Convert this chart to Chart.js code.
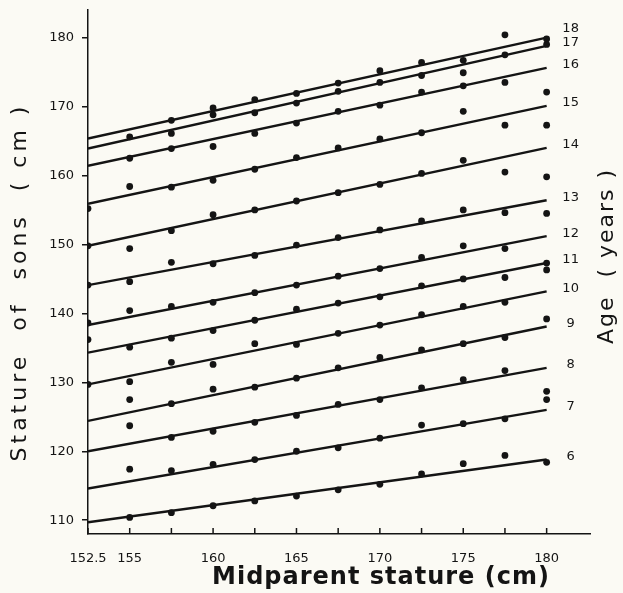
<!DOCTYPE html>
<html>
<head>
<meta charset="utf-8">
<script src="https://cdn.jsdelivr.net/npm/chart.js@4"></script>
<style>
  html, body { margin: 0; padding: 0; background: #fbfaf4; }
  canvas { display: block; }
</style>
</head>
<body>
<canvas id="chart" width="623" height="593"></canvas>
<script>
// Midparent stature classes (cm) and axis ticks
const midparent = [152.5, 155, 157.5, 160, 162.5, 165, 167.5, 170, 172.5, 175, 177.5, 180];
const xTicks = [152.5, 155, 157.5, 160, 162.5, 165, 167.5, 170, 172.5, 175, 177.5, 180];
const xLabels = [152.5, 155, 160, 165, 170, 175, 180];
const yTicks = [110, 120, 130, 140, 150, 160, 170, 180];

// Ages (years) and the fitted regression line at each end (152.5 and 180 cm)
const ages = [6, 7, 8, 9, 10, 11, 12, 13, 14, 15, 16, 17, 18];
const fitStart = [109.7, 114.6, 120.0, 124.4, 129.7, 134.3, 138.3, 144.1, 149.8, 155.9, 161.4, 163.9, 165.35];
const fitEnd = [118.8, 126.0, 132.1, 138.1, 143.2, 147.3, 151.2, 156.4, 164.0, 170.1, 175.6, 178.8, 180.0];

// Mean stature of sons (cm) per midparent class, one array per age
const sons6 = [null, 110.4, 111.1, 112.1, 112.8, 113.5, 114.4, 115.2, 116.7, 118.2, 119.4, 118.4];
const sons7 = [null, 117.4, 117.2, 118.1, 118.8, 120.0, 120.5, 121.9, 123.8, 124.0, 124.7, 127.5];
const sons8 = [null, 123.7, 122.0, 122.9, 124.2, 125.2, 126.8, 127.5, 129.2, 130.4, 131.7, 128.7];
const sons9 = [null, 127.5, 126.9, 129.0, 129.3, 130.6, 132.1, 133.6, 134.7, 135.6, 136.5, 139.2];
const sons10 = [129.7, 130.1, 132.9, 132.6, 135.6, 135.5, 137.1, 138.3, 139.8, 141.0, 141.6, null];
const sons11 = [136.2, 135.1, 136.4, 137.5, 139.0, 140.6, 141.5, 142.4, 144.0, 145.0, 145.2, 147.3];
const sons12 = [138.6, 140.4, 141.0, 141.6, 143.0, 144.1, 145.4, 146.5, 148.1, 149.8, 149.4, 146.3];
const sons13 = [144.1, 144.6, 147.4, 147.2, 148.4, 149.9, 151.0, 152.1, 153.4, 155.0, 154.6, 154.5];
const sons14 = [149.8, 149.4, 152.0, 154.3, 155.0, 156.3, 157.5, 158.7, 160.3, 162.2, 160.5, 159.8];
const sons15 = [155.2, 158.4, 158.3, 159.3, 160.9, 162.6, 164.0, 165.3, 166.2, 169.3, 167.3, 167.3];
const sons16 = [null, 162.5, 163.9, 164.2, 166.1, 167.6, 169.3, 170.2, 172.1, 173.0, 173.5, 172.1];
const sons17 = [null, 165.6, 166.1, 168.8, 169.1, 170.5, 172.2, 173.5, 174.5, 174.9, 177.5, 179.0];
const sons18 = [null, null, 168.0, 169.8, 171.0, 171.9, 173.4, 175.2, 176.4, 176.7, 180.4, 179.8];

const sonsByAge = [sons6, sons7, sons8, sons9, sons10, sons11, sons12, sons13, sons14, sons15, sons16, sons17, sons18];

const ink = "#141414";

// dots first so they are drawn on top of the lines
const pointSets = sonsByAge.map((vals, i) => ({
  label: "Age " + ages[i],
  data: midparent.map((x, j) => ({ x, y: vals[j] })).filter((p) => p.y !== null),
  pointRadius: 3.4,
  pointBackgroundColor: ink,
  pointBorderWidth: 0,
  showLine: false,
  order: 0,
}));

const lineSets = ages.map((age, i) => ({
  label: "Fit " + age,
  data: [
    { x: midparent[0], y: fitStart[i] },
    { x: midparent[midparent.length - 1], y: fitEnd[i] },
  ],
  showLine: true,
  borderColor: ink,
  borderWidth: 2.4,
  pointRadius: 0,
  order: 1,
}));

// age labels, inward x ticks and axis titles
const annotate = {
  id: "annotate",
  afterDraw(chart) {
    const { ctx, scales } = chart;
    const x = scales.x;
    const y = scales.y;
    ctx.save();
    ctx.fillStyle = ink;
    ctx.strokeStyle = ink;

    // x ticks pointing up into the plot
    ctx.lineWidth = 1.5;
    xTicks.forEach((t) => {
      const px = x.getPixelForValue(t);
      ctx.beginPath();
      ctx.moveTo(px, y.bottom);
      ctx.lineTo(px, y.bottom - 6);
      ctx.stroke();
    });

    // age numbers at the end of each line
    ctx.font = '13px "DejaVu Sans"';
    ctx.textAlign = "center";
    ctx.textBaseline = "middle";
    const lx = x.getPixelForValue(180) + 24;
    ages.forEach((age, i) => {
      let py = y.getPixelForValue(fitEnd[i]) - 3;
      if (age === 18) py -= 6;
      ctx.fillText(String(age), lx, py);
    });

    // axis titles
    ctx.letterSpacing = "4px";
    ctx.font = '22px "DejaVu Sans"';
    ctx.save();
    ctx.translate(20, 282);
    ctx.rotate(-Math.PI / 2);
    ctx.fillText("Stature  of  sons  ( cm )", 0, 0);
    ctx.restore();

    ctx.letterSpacing = "2px";
    ctx.font = '22px "DejaVu Sans"';
    ctx.save();
    ctx.translate(607, 256);
    ctx.rotate(-Math.PI / 2);
    ctx.fillText("Age  ( years )", 0, 0);
    ctx.restore();

    ctx.letterSpacing = "1px";
    ctx.font = 'bold 24px "DejaVu Sans"';
    ctx.fillText("Midparent stature (cm)", 381, 578);
    ctx.restore();
  },
};

new Chart(document.getElementById("chart"), {
  type: "scatter",
  data: { datasets: [...pointSets, ...lineSets] },
  options: {
    responsive: false,
    animation: false,
    layout: { padding: { top: 10, right: 33, left: 0, bottom: 0 } },
    plugins: { legend: { display: false }, tooltip: { enabled: false } },
    scales: {
      x: {
        type: "linear",
        min: 152.5,
        max: 182.6,
        grid: { display: false, drawTicks: false },
        border: { display: true, color: ink, width: 1.5 },
        afterBuildTicks: (s) => {
          s.ticks = xTicks.map((v) => ({ value: v }));
        },
        afterFit: (s) => {
          s.height = 59;
          s.paddingLeft = 0;
          s.paddingRight = 0;
        },
        ticks: {
          autoSkip: false,
          maxRotation: 0,
          padding: 17,
          color: ink,
          font: { family: "DejaVu Sans", size: 13 },
          callback: (v) => (xLabels.includes(v) ? String(v) : ""),
        },
      },
      y: {
        type: "linear",
        min: 108,
        max: 184,
        grid: { display: true, drawOnChartArea: false, drawTicks: true, tickLength: 6, color: ink, lineWidth: 1.5 },
        border: { display: true, color: ink, width: 1.5 },
        afterBuildTicks: (s) => {
          s.ticks = yTicks.map((v) => ({ value: v }));
        },
        afterFit: (s) => {
          s.width = 88;
          s.paddingTop = 0;
          s.paddingBottom = 0;
        },
        ticks: {
          padding: 8,
          color: ink,
          font: { family: "DejaVu Sans", size: 13 },
        },
      },
    },
  },
  plugins: [annotate],
});
</script>
</body>
</html>
